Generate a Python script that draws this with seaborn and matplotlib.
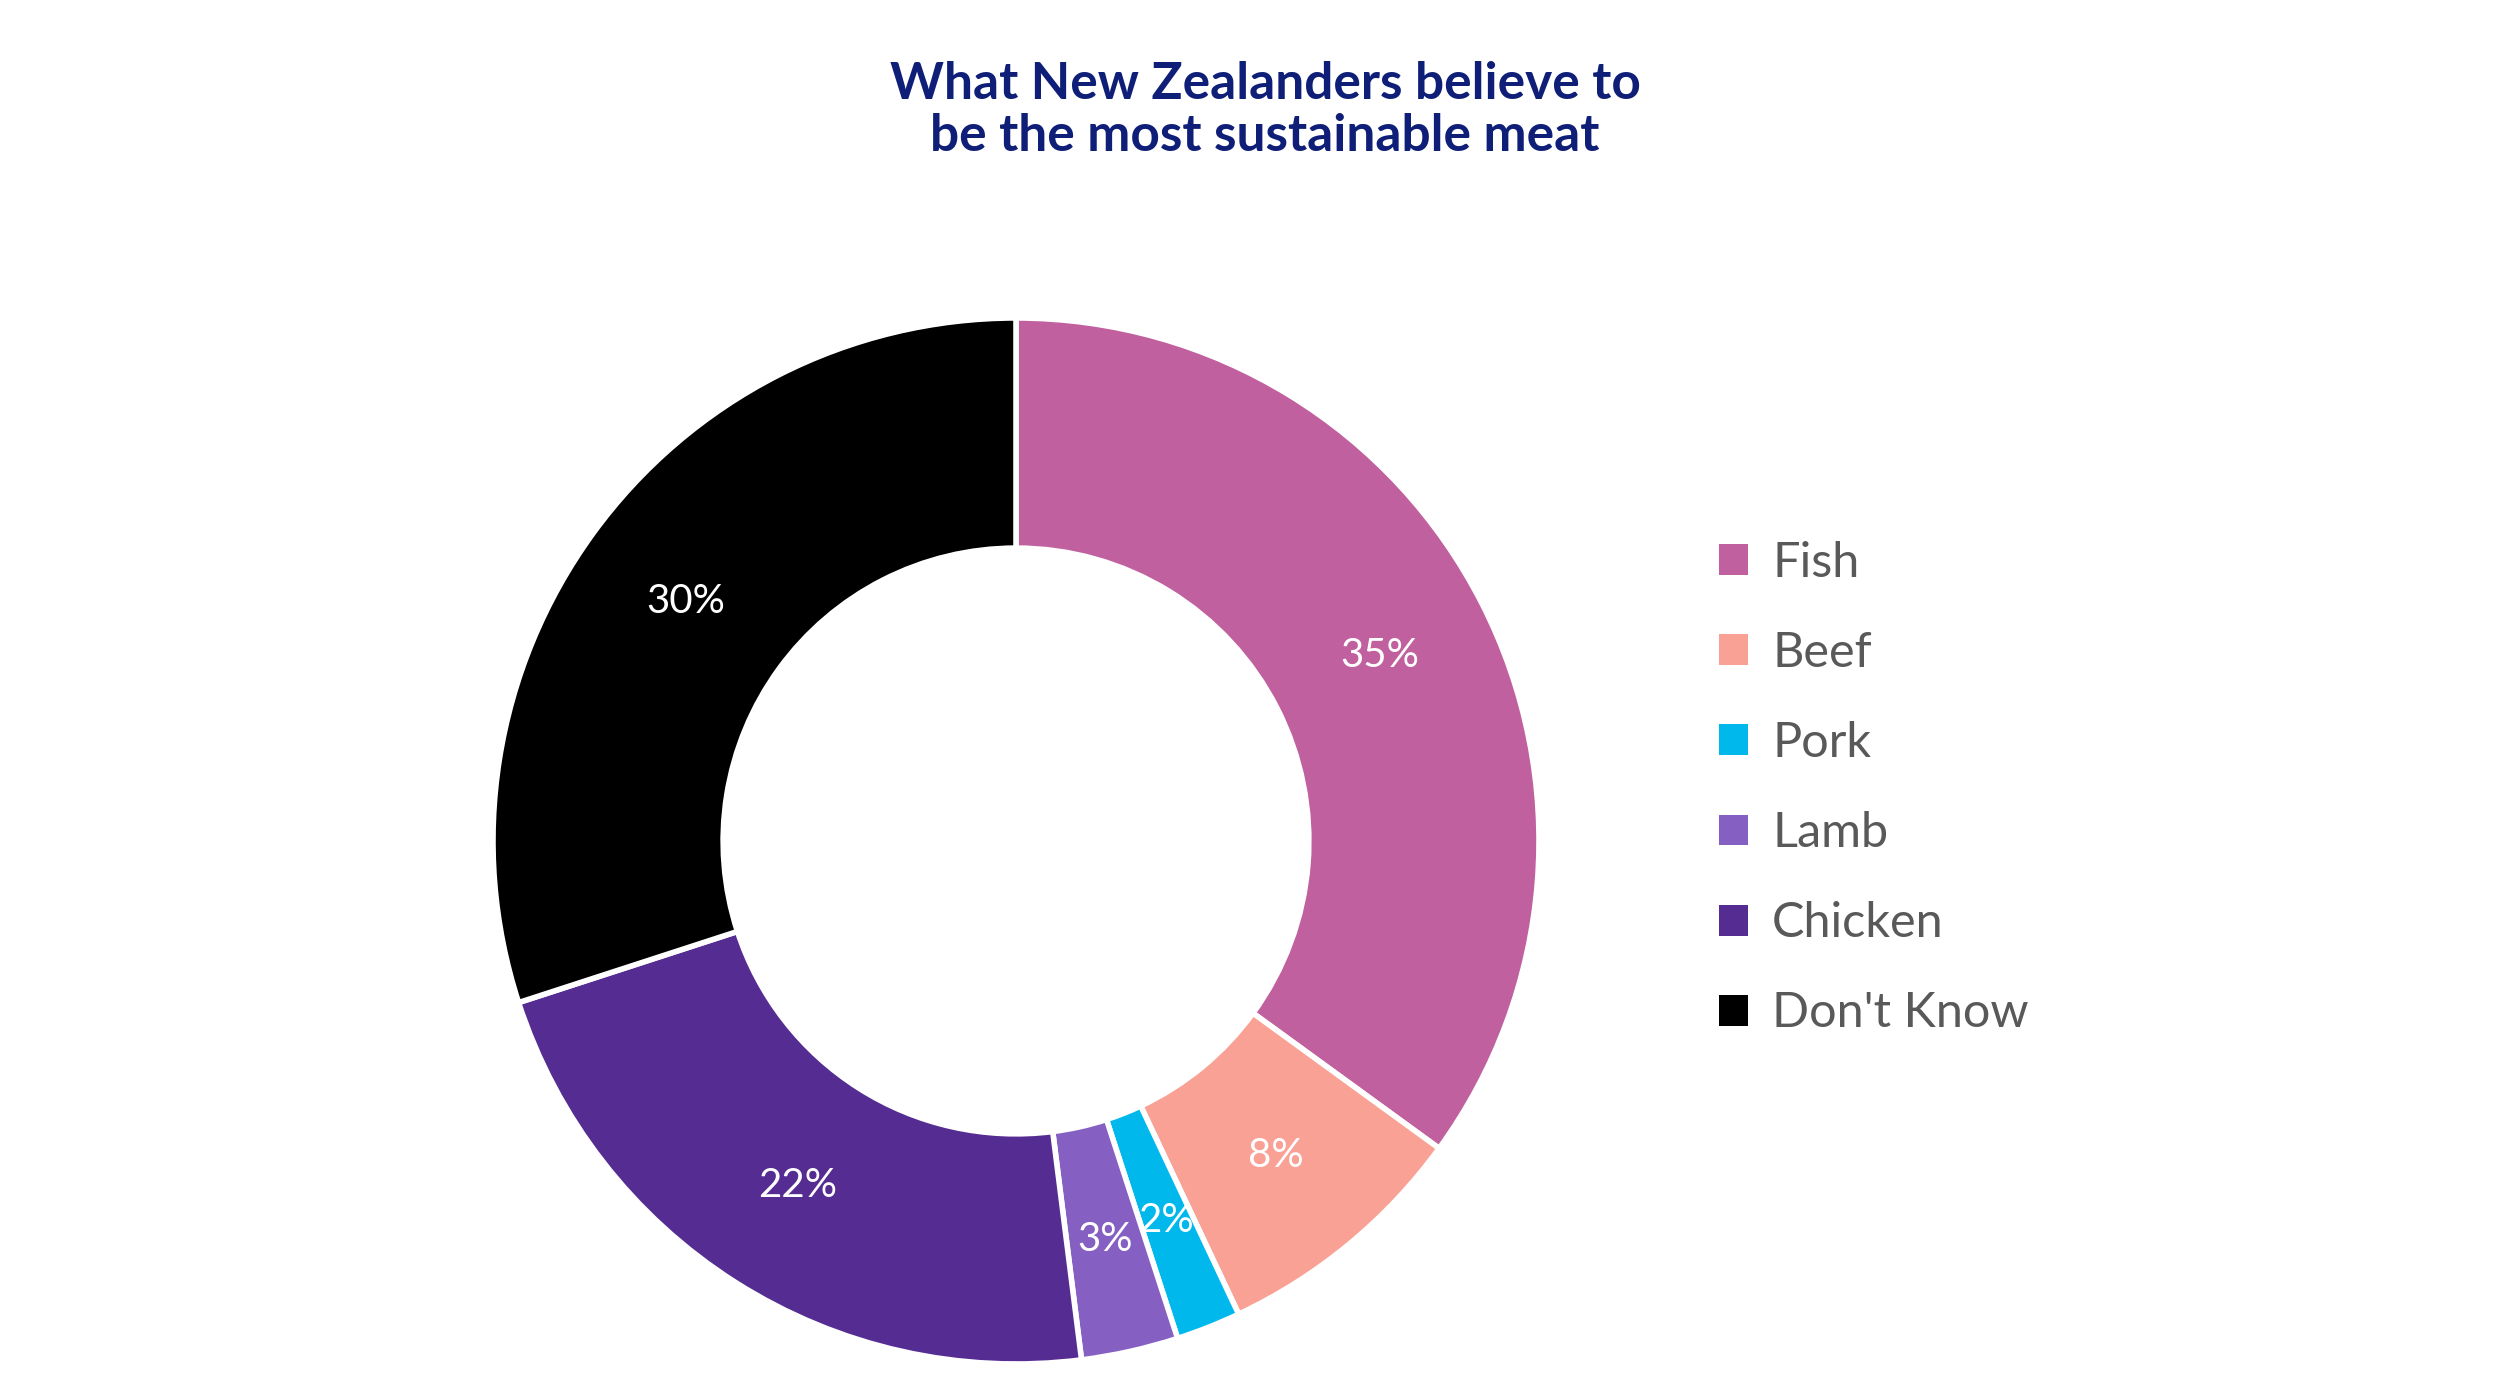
import matplotlib
matplotlib.use("Agg")
import matplotlib.pyplot as plt
import seaborn as sns
from matplotlib.patches import Patch

sns.set_theme(style="white", font="Lato")

categories = ["Fish", "Beef", "Pork", "Lamb", "Chicken", "Don't Know"]
shares = [35, 8, 2, 3, 22, 30]
colors = ["#C0609E", "#F9A195", "#00B8EC", "#8560C2", "#552C92", "#000000"]

fig = plt.figure(figsize=(25, 13.8), dpi=100)
ax = fig.add_axes([0.1972, 0.0116, 0.4184, 0.758])

wedges, texts, autotexts = ax.pie(
    shares, colors=colors, startangle=90, counterclock=False,
    autopct="%d%%", pctdistance=0.78, radius=1,
    wedgeprops=dict(width=0.44, edgecolor="white", linewidth=4),
    textprops=dict(color="white", fontsize=29),
)
ax.set_xlim(-1, 1)
ax.set_ylim(-1, 1)
ax.set_aspect("equal")
ax.axis("off")

fig.text(0.506, 0.92, "What New Zealanders believe to\nbe the most sustainable meat",
         ha="center", va="center", fontsize=37, fontweight="bold",
         color="#0F1F78", linespacing=1.15)

handles = [Patch(facecolor=c, edgecolor="none") for c in colors]
leg = fig.legend(handles, categories, loc="upper left", bbox_to_anchor=(0.67, 0.64),
                 frameon=False, fontsize=35, handlelength=0.6, handleheight=0.6,
                 handletextpad=0.5, labelspacing=0.95)
for t in leg.get_texts():
    t.set_color("#595959")

fig.savefig("out.png", dpi=100, facecolor="white")
